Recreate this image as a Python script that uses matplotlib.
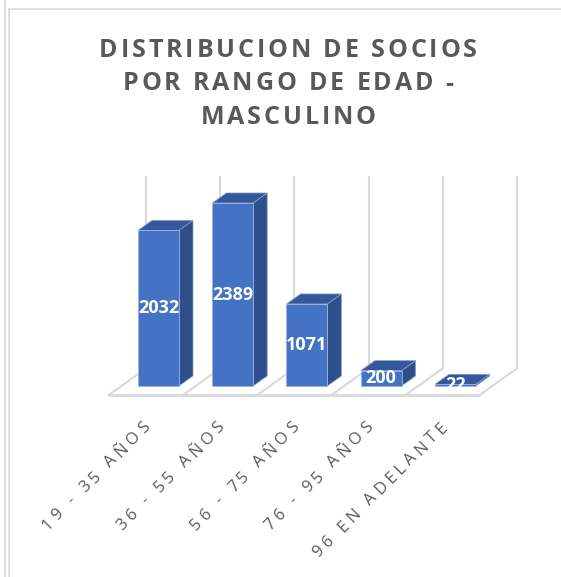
import numpy as np
import matplotlib.pyplot as plt
from matplotlib.patches import Polygon
from matplotlib.font_manager import FontProperties, findfont
from matplotlib.ft2font import FT2Font
from matplotlib.transforms import IdentityTransform

# Datos del gráfico
rangos = ["19 - 35 AÑOS", "36 - 55 AÑOS", "56 - 75 AÑOS", "76 - 95 AÑOS", "96 EN ADELANTE"]
socios = [2032, 2389, 1071, 200, 22]
titulo = ["DISTRIBUCION DE SOCIOS", "POR RANGO DE EDAD -", "MASCULINO"]
eje_max = 2500

# Colores
azul_frente = "#4472C4"
azul_lado = "#2F4F8A"
azul_techo = "#34589B"
gris_lineas = "#D9D9D9"
gris_texto = "#595959"

# Geometría del falso 3D (en unidades de datos)
ancho = 0.55            # ancho de cada barra en categorías
prof_dx = 0.19          # desplazamiento horizontal de la profundidad
prof_dy = 131           # desplazamiento vertical de la profundidad
piso_frente = -0.9      # plano frontal del piso (en profundidades de barra)
pared_fondo = 1.75      # plano de la pared del fondo

DPI = 100
W, H = 561, 577
fig = plt.figure(figsize=(W / DPI, H / DPI), dpi=DPI)
ax = fig.add_axes([0, 0, 1, 1])
px_cat = 74.2
px_val = 0.0766
x0_px, y0_px = 158.5, H - 386
ax.set_xlim(-x0_px / px_cat, (W - x0_px) / px_cat)
ax.set_ylim(-y0_px / px_val, (H - y0_px) / px_val)
ax.axis("off")


def avances(s, prop, size):
    """Avance horizontal (px) de cada carácter de s."""
    f = FT2Font(findfont(prop))
    f.set_size(size, DPI)
    return [f.load_char(ord(c)).linearHoriAdvance / 65536 for c in s]


def texto_espaciado(x, y, s, size, tracking, angulo=0, alinear="left",
                    weight="normal", color=gris_texto):
    """Dibuja s letra por letra (coordenadas de pantalla) con espaciado extra."""
    prop = FontProperties(family="Open Sans", weight=weight)
    adv = avances(s, prop, size)
    largo = sum(adv) + tracking * (len(s) - 1)
    ux, uy = np.cos(np.radians(angulo)), np.sin(np.radians(angulo))
    if alinear == "center":
        x, y = x - ux * largo / 2, y - uy * largo / 2
    elif alinear == "right":
        x, y = x - ux * largo, y - uy * largo
    pos = 0.0
    for c, a in zip(s, adv):
        fig.text(x + ux * pos, y + uy * pos, c, transform=IdentityTransform(),
                 fontsize=size, fontweight=weight, family="Open Sans", color=color,
                 rotation=angulo, rotation_mode="anchor", ha="left", va="baseline")
        pos += a + tracking


n = len(socios)
limites = np.arange(n + 1) - 0.5


def punto(x, y, d):
    return (x + d * prof_dx, y + d * prof_dy)


# Piso: borde frontal y divisiones diagonales
xf = [punto(b, 0, piso_frente)[0] for b in limites]
yf = punto(0, 0, piso_frente)[1]
ax.plot([xf[0], xf[-1]], [yf, yf], color=gris_lineas, lw=2, zorder=1,
        solid_capstyle="butt")
for b in limites:
    p1 = punto(b, 0, piso_frente)
    p2 = punto(b, 0, pared_fondo)
    ax.plot([p1[0], p2[0]], [p1[1], p2[1]], color=gris_lineas, lw=1.5, zorder=1)
    p3 = punto(b, eje_max, pared_fondo)
    ax.plot([p2[0], p3[0]], [p2[1], p3[1]], color=gris_lineas, lw=1.5, zorder=1)

# Barras en falso 3D
for i, v in enumerate(socios):
    xa, xb = i - ancho / 2, i + ancho / 2
    frente = Polygon([(xa, 0), (xb, 0), (xb, v), (xa, v)], closed=True,
                     facecolor=azul_frente, edgecolor="#9DB3E0", lw=0.6, zorder=3)
    lado = Polygon([(xb, 0), punto(xb, 0, 1), punto(xb, v, 1), (xb, v)], closed=True,
                   facecolor=azul_lado, edgecolor="#8DA2CC", lw=0.5, zorder=2)
    techo = Polygon([(xa, v), (xb, v), punto(xb, v, 1), punto(xa, v, 1)], closed=True,
                    facecolor=azul_techo, edgecolor="#8DA2CC", lw=0.5, zorder=2)
    for p in (lado, techo, frente):
        ax.add_patch(p)
    ax.text(i, v / 2, f"{v}", ha="center", va="center", color="white",
            fontsize=13, fontweight="bold", family="Open Sans", zorder=4)

# Etiquetas de categorías, giradas 45° con espaciado amplio
for i, r in enumerate(rangos):
    fx, fy = ax.transData.transform(punto(i, 0, piso_frente))
    texto_espaciado(fx + 5, fy - 33, r, 12, 4.0, angulo=45, alinear="right")

# Título en tres líneas, centrado
for k, linea in enumerate(titulo):
    texto_espaciado(288, H - 57 - k * 33.5, linea, 18, 2.9, alinear="center",
                    weight="bold")

# Marco del gráfico
fig.add_artist(plt.Line2D([5 / W, 5 / W], [0, 1], color=gris_lineas, lw=1.2))
fig.add_artist(plt.Line2D([8.5 / W, 8.5 / W], [0, 1 - 9 / H], color=gris_lineas, lw=1.2))
fig.add_artist(plt.Line2D([8.5 / W, 1], [1 - 9 / H, 1 - 9 / H], color=gris_lineas, lw=1.2))

fig.savefig("out.png", dpi=DPI)
